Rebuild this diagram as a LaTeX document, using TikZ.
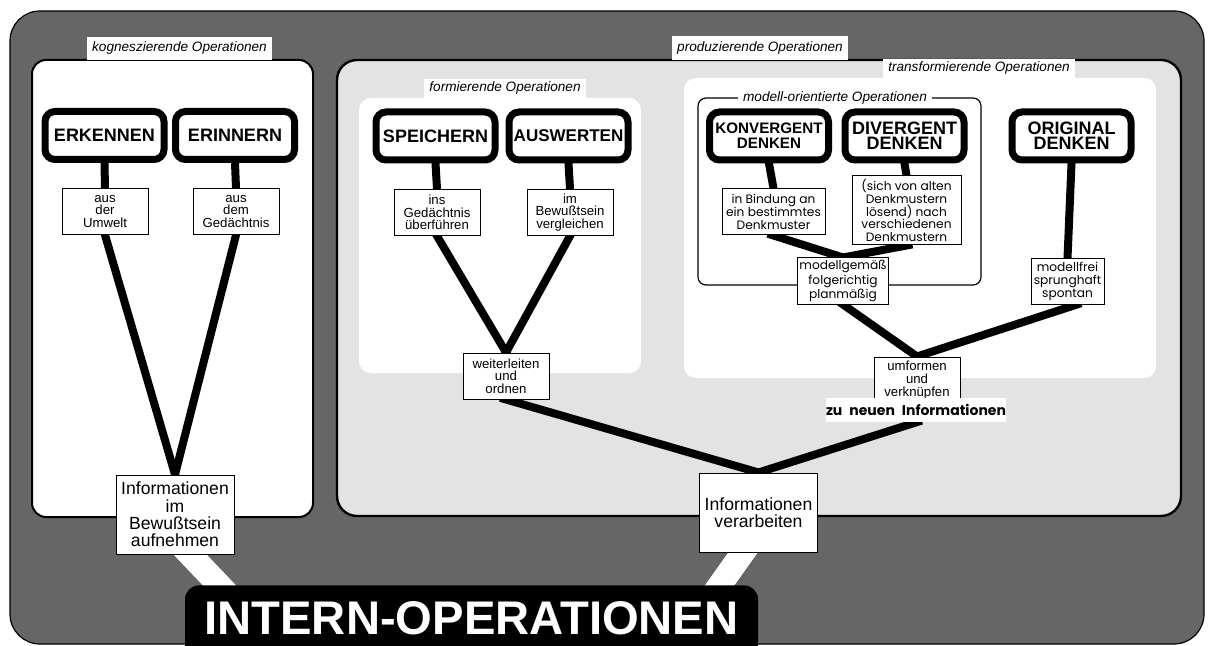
\documentclass[tikz,border=0pt]{standalone}
\usepackage{fontspec}
\setmainfont{Liberation Sans}
\newfontfamily\geofont{Poppins}
\usetikzlibrary{positioning}
\definecolor{framegray}{gray}{0.40}
\definecolor{panelgray}{gray}{0.89}
\pgfdeclarelayer{panels}
\pgfdeclarelayer{wires}
\pgfsetlayers{panels,wires,main}

\begin{document}
\begin{tikzpicture}[x=0.5pt,y=-0.5pt,
  verb/.style={draw,line width=3.5pt,rounded corners=5pt,fill=white,align=center,
    minimum width=59.5pt,minimum height=24pt,inner sep=0pt,
    font=\bfseries\fontsize{9}{7.6}\selectfont},
  info/.style={draw,line width=0.5pt,fill=white,align=center,inner sep=1pt,
    minimum width=43pt,minimum height=23pt,font=\fontsize{6.6}{6.3}\selectfont},
  geo/.style={info,font=\geofont\fontsize{6.1}{6.3}\selectfont},
  big/.style={info,minimum width=59pt,minimum height=39.5pt,font=\fontsize{8.8}{8.7}\selectfont},
  tag/.style={fill=white,inner xsep=2.5pt,inner ysep=0pt,minimum height=9.5pt,
    font=\itshape\fontsize{6.8}{7}\selectfont},
  wire/.style={line width=4pt,shorten <=-3pt,shorten >=-3pt},
  band/.style={white,line width=12pt,shorten <=-12pt,shorten >=-12pt}]
  \useasboundingbox (0,0) rectangle (1208,646);

  % panels
  \begin{pgfonlayer}{panels}
    \fill[white] (0,0) rectangle (1208,646);
    \draw[fill=framegray,line width=0.6pt,rounded corners=15pt] (10,11) rectangle (1204,644);
    \draw[fill=white,line width=1pt,rounded corners=7pt] (32,60) rectangle (313,517);
    \draw[fill=panelgray,line width=1.2pt,rounded corners=10pt] (337,60) rectangle (1181,516);
    \fill[white,rounded corners=6pt] (359,98) rectangle (641,373);
    \fill[white,rounded corners=6pt] (684,78) rectangle (1156,378);
    \draw[line width=0.6pt,rounded corners=4pt] (698,98) rectangle (981,285);
  \end{pgfonlayer}

  \node[tag,minimum height=11.5pt,anchor=south] (kogtag) at (179.5,60) {kogneszierende Operationen};
  \node[tag,minimum height=12pt,anchor=south] (prodtag) at (760,60) {produzierende Operationen};
  \node[tag,anchor=south] (formtag) at (505,98) {formierende Operationen};
  \node[tag,anchor=south] (transtag) at (979,78) {transformierende Operationen};
  \node[tag,minimum height=7pt] (modtag) at (835,98) {modell-orientierte Operationen};

  \node[verb] (erkennen) at (104.5,135.5) {ERKENNEN};
  \node[verb] (erinnern) at (235,135.5) {ERINNERN};
  \node[verb] (speichern) at (435.5,136) {SPEICHERN};
  \node[verb,font=\bfseries\fontsize{8.5}{7.6}\selectfont] (auswerten) at (568.5,136) {AUSWERTEN};
  \node[verb,font=\bfseries\fontsize{7.6}{7.6}\selectfont] (konvergent) at (769,136) {KONVERGENT\\DENKEN};
  \node[verb] (divergent) at (904.5,136) {DIVERGENT\\DENKEN};
  \node[verb] (original) at (1071.5,136) {ORIGINAL\\DENKEN};

  \node[info] (umwelt) at (105,211.5) {aus\\der\\Umwelt};
  \node[info] (gedaechtnis) at (236,211.5) {aus\\dem\\Gedächtnis};
  \node[info] (ins) at (437,212.5) {ins\\Gedächtnis\\überführen};
  \node[info] (bewusst) at (570,212.5) {im\\Bewußtsein\\vergleichen};
  \node[geo,minimum width=51.5pt] (bindung) at (773.5,212) {in Bindung an\\ein bestimmtes\\Denkmuster};
  \node[geo,minimum width=54.5pt,minimum height=34.5pt] (sichvon) at (906.5,210.5)
    {(sich von alten\\Denkmustern\\lösend) nach\\verschiedenen\\Denkmustern};
  \node[geo,minimum width=41pt] (gemaess) at (843,281) {modellgemäß\\folgerichtig\\planmäßig};
  \node[geo,minimum width=36.5pt] (frei) at (1067.5,281.5) {modellfrei\\sprunghaft\\spontan};
  \node[info] (weiter) at (506,376) {weiterleiten\\und\\ordnen};
  \node[info] (umformen) at (917,380) {umformen\\und\\verknüpfen};
  \node[fill=white,minimum width=86pt,minimum height=12pt,inner sep=0pt,
    font=\geofont\bfseries\fontsize{7}{7}\selectfont] (zuneu) at (916,410) {zu\enspace neuen\enspace Informationen};
  \node[big] (aufnehm) at (175,514.5) {Informationen\\im\\Bewußtsein\\aufnehmen};
  \node[big] (verarb) at (758.5,512.5) {Informationen\\verarbeiten};

  \node[fill=black,text=white,rounded corners=7pt,anchor=north,minimum width=286.5pt,
    inner sep=0pt,text height=24.5pt,text depth=18pt,
    font=\bfseries\fontsize{23.6}{23.6}\selectfont] (intern) at (471.5,585) {INTERN-OPERATIONEN};

  % connectors
  \begin{pgfonlayer}{wires}
    \draw[wire] (erkennen.south) -- (umwelt.north);
    \draw[wire] (erinnern.south) -- (gedaechtnis.north);
    \draw[wire] (umwelt.south) -- (aufnehm.north);
    \draw[wire] (gedaechtnis.south) -- (aufnehm.north);
    \draw[wire] (speichern.south) -- (ins.north);
    \draw[wire] (auswerten.south) -- (bewusst.north);
    \draw[wire] (ins.south) -- (weiter.north);
    \draw[wire] (bewusst.south) -- (weiter.north);
    \draw[wire] (konvergent.south) -- (bindung.north);
    \draw[wire] (divergent.south) -- (sichvon.north);
    \draw[wire] (original.south) -- (frei.north);
    \draw[wire] (bindung.south) -- (gemaess.north);
    \draw[wire] (sichvon.south) -- (gemaess.north);
    \draw[wire] (gemaess.south) -- (umformen.north);
    \draw[wire] ([xshift=4pt]frei.south) -- (umformen.north);
    \draw[wire] (weiter.south) -- (verarb.north);
    \draw[wire] (zuneu.south) -- (verarb.north);
    \draw[band] ([xshift=7.5pt]aufnehm.south) -- ([xshift=17.25pt]intern.north west);
    \draw[band] ([xshift=-7.75pt]verarb.south) -- ([xshift=-19.25pt]intern.north east);
  \end{pgfonlayer}
\end{tikzpicture}
\end{document}
